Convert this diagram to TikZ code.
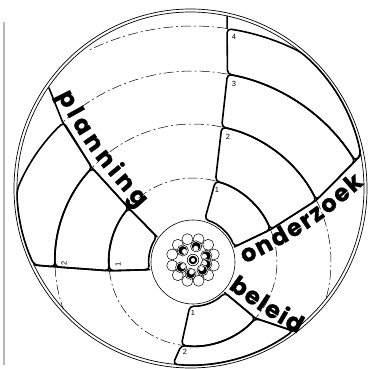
\documentclass[tikz,border=0pt]{standalone}
\usepackage{fontspec}
\usetikzlibrary{calc,decorations.text}
\newfontfamily\lblfont{Poppins}[BoldFeatures={FakeBold=0.8}]
\newfontfamily\numfont{Liberation Sans}
\begin{document}
\begin{tikzpicture}[x=1pt,y=1pt,
  box/.style={line width=1.6pt, rounded corners=4pt, line join=round},
  mer/.style={line width=1.6pt, line cap=round, line join=round},
  lat/.style={line width=0.5pt, dash pattern=on 10pt off 3pt on 2pt off 3pt},
  rim/.style={line width=0.7pt},
  num/.style={font=\numfont\fontsize{7.5}{7.5}\selectfont, inner sep=0pt},
  lbl/.style={decorate, decoration={text along path, text align={fit to path}, raise=-6.5pt,
     text={|\lblfont\bfseries\fontsize{24}{24}\selectfont|#1}}},
]
\useasboundingbox (-193,262) rectangle (174,-107);
\coordinate (C) at (-2.5,73.5);
\coordinate (h) at (0,0);
% scan border line
\draw[gray!55, line width=1.2pt] (-189,240) -- (-189,-103) coordinate (g2);
% rim
\draw[rim] (C) ellipse[x radius=176.5, y radius=179.5];
\draw[rim] (C) ellipse[x radius=173.5, y radius=176.5];
% ring round the hub
\draw[line width=0.6pt] (h) circle[radius=42];
% dashed latitudes
\draw[lat] (74.5:84) arc[start angle=74.5, end angle=140, radius=84];
\draw[lat] (22.7:84) arc[start angle=22.7, end angle=-42, radius=84];
\draw[lat] (186:84) arc[start angle=186, end angle=262, radius=84];
\draw[lat] (78:138) arc[start angle=78, end angle=137, radius=138];
\draw[lat] (26.6:138) arc[start angle=26.6, end angle=-15, radius=138];
\draw[lat] (182:138) arc[start angle=182, end angle=200, radius=138];
\draw[lat] (79.6:191) arc[start angle=79.6, end angle=133, radius=191];
\draw[lat] (81.7:236) arc[start angle=81.7, end angle=116.3, radius=236];
% points on the rim
\coordinate (Pw) at ($(C)+(205.7:173.5 and 176.5)$);
\coordinate (Po) at ($(C)+(11:173.5 and 176.5)$);
\coordinate (Pb) at ($(C)+(-53.8:173.5 and 176.5)$);
% onderzoek boxes
\draw[box] (74.5:44) arc[start angle=74.5,end angle=20,radius=44] -- (22.7:84)
   arc[start angle=22.7,end angle=74.5,radius=84] -- cycle;
\draw[box] (74.5:84) arc[start angle=74.5,end angle=22.7,radius=84] -- (26.6:138)
   arc[start angle=26.6,end angle=78,radius=138] -- cycle;
\draw[box] (78:138) arc[start angle=78,end angle=26.6,radius=138] -- (31.9:191)
   arc[start angle=31.9,end angle=79.6,radius=191] -- cycle;
\draw[box] (79.6:191) arc[start angle=79.6,end angle=31.9,radius=191] -- (Po)
   arc[start angle=11,end angle=50.5,x radius=173.5,y radius=176.5]
   arc[start angle=62.8,end angle=81.7,radius=236] -- cycle;
\draw[mer] (81.7:236) -- (82.1:248);
\draw[mer] (20:44) -- (22.7:84) -- (26.6:138) -- (31.9:191) -- (Po);
% planning boxes
\draw[box] (145:44) arc[start angle=145,end angle=190,radius=44] -- (186:84)
   arc[start angle=186,end angle=140,radius=84] -- cycle;
\draw[box] (140:84) arc[start angle=140,end angle=186,radius=84] -- (182:138)
   arc[start angle=182,end angle=137,radius=138] -- cycle;
\draw[box] (137:138) arc[start angle=137,end angle=182,radius=138] -- (Pw)
   arc[start angle=205.7,end angle=180.5,x radius=173.5,y radius=176.5]
   arc[start angle=157.9,end angle=133,radius=191] -- cycle;
\draw[mer] (145:44) -- (140:84) -- (137:138) -- (133:191) -- (129.6:226);
\draw[mer] (190:44) -- (186:84) -- (182:138) -- (Pw);
% beleid boxes
\draw[box] (-94:44) arc[start angle=-94,end angle=-44,radius=44] -- (-42:84)
   arc[start angle=-42,end angle=-98,radius=84] -- cycle;
\draw[box] (-98:84) arc[start angle=-98,end angle=-42,radius=84] -- (Pb)
   arc[start angle=-53.8,end angle=-95.8,x radius=173.5,y radius=176.5] -- cycle;
\draw[mer] (-44:44) -- (-42:84) -- (Pb);
% numbers
\node[num] (o1) at (24,72) {1};
\node[num] (o2) at (35,125) {2};
\node[num] (o3) at (41,178) {3};
\node[num] (o4) at (41,225) {4};
\node[num] (b1) at (0,-51) {1};
\node[num] (b2) at (-8,-90) {2};
\node[num,rotate=90] (p1) at (-75,-2) {1};
\node[num,rotate=90] (p2) at (-129,-1) {2};
% labels
\path[lbl=planning] (-130,170) to[out=-64,in=131.6] (-50,58);
\path[lbl=onderzoek] (49,4) to[out=26,in=222] (167,83);
\path[lbl=beleid] (39,-21) to[out=-36,in=152] (108,-66);
% hub cluster
\begin{scope}[shift={(0,2)}]
\foreach \a in {15,45,...,345} \draw[line width=0.5pt, fill=white] (\a:21.5) circle[radius=5.5];
\foreach \a/\o in {18/200,-18/150,-47/120,-100/60,-148/30,137/-30,77/-100} {
  \draw[line width=0.5pt, fill=white] (\a:14) circle[radius=5.6];
  \fill (\a:14) circle[radius=4.4];
  \fill[white] (\a:14) ++(\o:2) circle[radius=2.5];
}
\draw[line width=0.5pt, fill=white] (0,0) circle[radius=5.8];
\draw[line width=2pt] (0,0) circle[radius=3.2];
\end{scope}
\end{tikzpicture}
\end{document}
